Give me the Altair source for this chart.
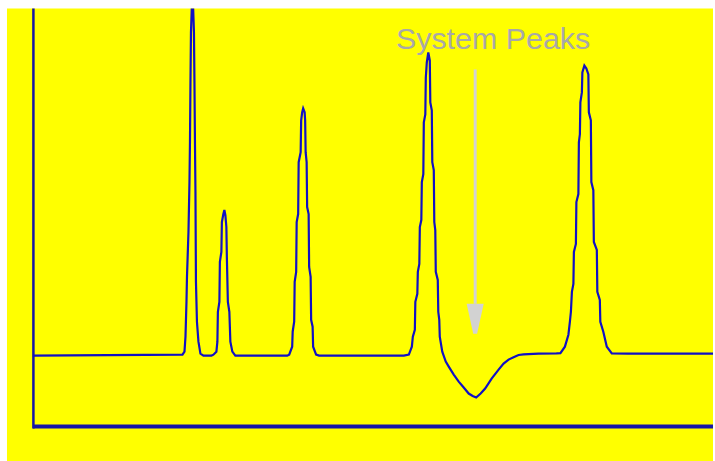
import altair as alt
import pandas as pd

# Detector trace: retention time (s) and detector response (µV above baseline)
time_s = [0, 300, 304, 306, 308, 309, 312, 314, 315, 316, 317, 320, 323, 324, 325, 326, 327, 329, 332, 336, 342,
          358, 362, 368, 370, 371, 374, 375, 378, 379, 382, 384, 386, 388, 389, 391, 394, 396, 400, 406,
          510, 514, 520, 521, 524, 525, 528, 529, 532, 533, 537, 538, 540, 542, 545, 546, 547, 549, 550, 553,
          554, 557, 558, 561, 562, 568, 574,
          744, 754, 760, 762, 766, 767, 771, 772, 775, 776, 779, 780, 783, 784, 787, 788, 790, 793, 796, 797,
          800, 801, 804, 805, 807, 808, 812, 813, 815, 816, 821,
          828, 834, 844, 854, 864, 874, 882, 889, 898, 907, 920, 934, 944, 954, 964, 974, 984, 1014, 1050,
          1058, 1067, 1074, 1077, 1079, 1081, 1084, 1085, 1089, 1090, 1094, 1095, 1097, 1098, 1101, 1102, 1106,
          1110, 1114, 1115, 1119, 1120, 1124, 1125, 1131, 1132, 1137, 1138, 1144, 1151, 1161, 1194, 1364]
signal = [0, 1, 4, 19, 54, 79, 124, 174, 214, 274, 324, 369, 324, 274, 214, 164, 74, 34, 14, 2, 0,
          0, 1, 4, 14, 44, 54, 94, 104, 134, 142, 146, 141, 129, 99, 54, 44, 14, 4, 0,
          0, 1, 9, 24, 34, 74, 84, 134, 142, 194, 204, 236, 244, 248, 244, 236, 204, 194, 149, 142,
          89, 79, 36, 29, 9, 1, 0,
          0, 1, 9, 19, 26, 54, 62, 84, 92, 129, 136, 174, 182, 234, 242, 279, 294, 304, 296, 254,
          246, 194, 186, 134, 126, 84, 76, 44, 36, 19, 4,
          -6, -11, -19, -26, -32, -38, -40.5, -42, -38, -33, -23, -14, -8, -4, -1.5, 0.7, 1.3, 2, 2.3,
          2.5, 9, 21, 34, 44, 64, 72, 104, 112, 154, 162, 214, 222, 254, 264, 284, 291,
          288, 282, 244, 236, 174, 166, 114, 106, 64, 56, 34, 24, 9, 2.3, 2, 2]

# Frame lines of the recorder chart
axis_time = [1]
axis_signal = [-71]

# Annotation
label_text = ["System Peaks"]
label_time = [728]
label_signal = [307.3]
arrow_time = [887]
arrow_top = [287]
arrow_bottom = [52]
arrow_head_signal = [37]

X_DOMAIN = [-52, 1364]
Y_DOMAIN = [-107, 348]


def xenc(field):
    return alt.X(field, type="quantitative", scale=alt.Scale(domain=X_DOMAIN, nice=False, zero=False), axis=None)


def yenc(field):
    return alt.Y(field, type="quantitative", scale=alt.Scale(domain=Y_DOMAIN, nice=False, zero=False), axis=None)


trace_df = pd.DataFrame({"t": time_s, "s": signal, "i": list(range(len(time_s)))})
frame_color = "#1616a6"
trace_color = "#1010c4"

trace = alt.Chart(trace_df).mark_line(color=trace_color, strokeWidth=2.2, clip=True).encode(
    x=xenc("t"), y=yenc("s"), order=alt.Order("i", type="quantitative"),
)

vert = alt.Chart(pd.DataFrame({"t": axis_time, "y1": [Y_DOMAIN[1]], "y2": [-73]})).mark_rule(
    color=frame_color, strokeWidth=2.5
).encode(x=xenc("t"), y=yenc("y1"), y2=alt.Y2("y2"))

horiz = alt.Chart(pd.DataFrame({"s": axis_signal, "x1": [0], "x2": [X_DOMAIN[1]]})).mark_rule(
    color=frame_color, strokeWidth=4
).encode(y=yenc("s"), x=xenc("x1"), x2=alt.X2("x2"))

label = alt.Chart(pd.DataFrame({"txt": label_text, "t": label_time, "s": label_signal})).mark_text(
    align="left", baseline="alphabetic", font="Liberation Sans", fontSize=30.5, color="#a8a8a8"
).encode(x=xenc("t"), y=yenc("s"), text=alt.Text("txt", type="nominal"))

shaft = alt.Chart(pd.DataFrame({"t": arrow_time, "y1": arrow_top, "y2": arrow_bottom})).mark_rule(
    color="#d2d2d2", strokeWidth=3
).encode(x=xenc("t"), y=yenc("y1"), y2=alt.Y2("y2"))

head = alt.Chart(pd.DataFrame({"t": arrow_time, "s": arrow_head_signal})).mark_point(
    shape="M -0.57 -1 L 0.57 -1 L 0.13 1 L -0.13 1 Z",
    size=900, filled=True, color="#d2d2d2", opacity=1, strokeWidth=0,
).encode(x=xenc("t"), y=yenc("s"))

chart = alt.layer(vert, horiz, trace, shaft, head, label).properties(
    width=708, height=455,
    padding={"left": 7, "top": 6, "right": 0, "bottom": 0},
    background="white",
).configure_view(fill="#ffff00", strokeWidth=0)

chart.save("out.html", embed_options={"renderer": "svg", "actions": False})
